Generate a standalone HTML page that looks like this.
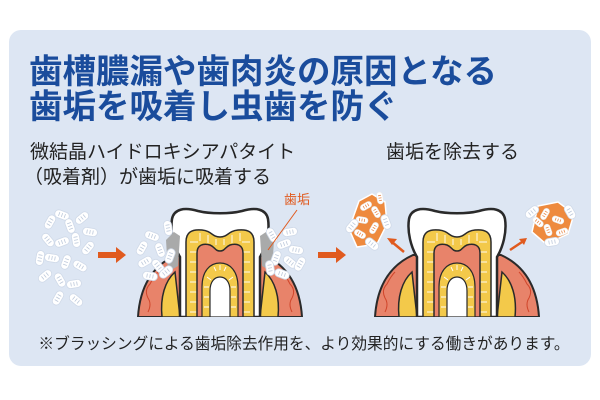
<!DOCTYPE html>
<html><head><meta charset="utf-8"><style>
html,body{margin:0;padding:0;background:#fff;}
svg{display:block;font-family:"Liberation Sans","Noto Sans CJK JP",sans-serif;}
</style></head><body>
<svg width="600" height="400" viewBox="0 0 600 400" xmlns="http://www.w3.org/2000/svg">
<defs>
<g id="bac"><rect x="-7.5" y="-4" width="15" height="8" rx="4" fill="#fff" stroke="#cfd9e8" stroke-width="0.8"/><path d="M-3,-2v4M0,-2v4M3,-2v4" stroke="#bcc8da" stroke-width="0.8"/></g>
<g id="bac2"><rect x="-6" y="-3" width="12" height="6" rx="3" fill="#fff" stroke="#e9e9e9" stroke-width="0.6"/><path d="M-2.5,-1.5v3M0,-1.5v3M2.5,-1.5v3" stroke="#e8894a" stroke-width="0.8"/></g>
<g id="tooth">
  <path d="M-82,0 C-80,-32 -66,-52 -44,-62 L44,-62 C66,-52 80,-32 82,0 Z" fill="#e8836a" stroke="#2a2a2a" stroke-width="2"/>
  <path d="M-58,0 C-60,-20 -55,-36 -45,-45 L-40,0 Z" fill="#f3c94a" stroke="#2a2a2a" stroke-width="1.5"/>
  <path d="M58,0 C60,-20 55,-36 45,-45 L40,0 Z" fill="#f3c94a" stroke="#2a2a2a" stroke-width="1.5"/>
  <path d="M-72,-5 q4,-8 0,-14 q-4,-8 2,-14 q4,-8 8,-12" fill="none" stroke="#d0452a" stroke-width="1"/>
  <path d="M72,-5 q-4,-8 0,-14 q4,-8 -2,-14 q-4,-8 -8,-12" fill="none" stroke="#d0452a" stroke-width="1"/>
  <path d="M-40,0 L-40,-60 C-46,-70 -50,-85 -48,-98 C-46,-108 -36,-110 -22,-106 C-10,-103 10,-103 22,-106 C36,-110 46,-108 48,-98 C50,-85 46,-70 40,-60 L40,0 Z" fill="#fff" stroke="#2a2a2a" stroke-width="2.5"/>
  <path d="M-34,0 L-34,-75 C-34,-85 -28,-88 -18,-87 C-8,-86 -8,-80 0,-80 C8,-80 8,-86 18,-87 C28,-88 34,-85 34,-75 L34,0 Z" fill="#f3c94a" stroke="#2a2a2a" stroke-width="1.5"/>
  <g stroke="#fff" stroke-width="1" opacity="0.9">
    <path d="M-30,-5h8M-30,-15h8M-30,-25h8M-30,-35h8M-30,-45h8M-30,-55h8M-30,-65h8M-30,-75h8M22,-5h8M22,-15h8M22,-25h8M22,-35h8M22,-45h8M22,-55h8M22,-65h8M22,-75h8M-20,-84v8M-12,-82v8M12,-82v8M20,-84v8M-4,-78v6M4,-78v6"/>
  </g>
  <path d="M-23,0 L-23,-64 C-23,-72 -17,-74 -10,-72 C-5,-70 -5,-66 0,-66 C5,-66 5,-70 10,-72 C17,-74 23,-72 23,-64 L23,0 Z" fill="#e8836a" stroke="#2a2a2a" stroke-width="1.5"/>
  <path d="M-18,0 L-18,-30 C-18,-46 -10,-54 0,-54 C10,-54 18,-46 18,-30 L18,0 Z" fill="#f3c94a" stroke="#2a2a2a" stroke-width="1.2"/>
  <g stroke="#fff" stroke-width="0.9"><path d="M-16,-10h5M-16,-20h5M-16,-30h5M-13,-40l4,3M-6,-50l2,4M0,-52v5M6,-50l-2,4M13,-40l-4,3M11,-30h5M11,-20h5M11,-10h5"/></g>
  <path d="M-10,0 L-10,-26 C-10,-36 -5,-40 0,-40 C5,-40 10,-36 10,-26 L10,0 Z" fill="#fff" stroke="#2a2a2a" stroke-width="1.2"/>
  <rect x="-84" y="0" width="168" height="4" fill="#dde6f3"/>
</g>
</defs>
<rect x="9" y="30" width="582" height="336" rx="12" fill="#dde6f3"/>
<text x="29" y="83" font-size="33.5" font-weight="bold" fill="#1a4c9c">歯槽膿漏や歯肉炎の原因となる</text>
<text x="29" y="118" font-size="33.5" font-weight="bold" fill="#1a4c9c">歯垢を吸着し虫歯を防ぐ</text>
<text x="30" y="158" font-size="19" fill="#222">微結晶ハイドロキシアパタイト</text>
<text x="24" y="183" font-size="19" fill="#222">（吸着剤）が歯垢に吸着する</text>
<text x="386" y="158" font-size="19" fill="#222">歯垢を除去する</text>

<g>
<use href="#bac" transform="translate(50,222) rotate(-60)"/><use href="#bac" transform="translate(62,215) rotate(20)"/><use href="#bac" transform="translate(70,226) rotate(70)"/>
<use href="#bac" transform="translate(82,218) rotate(-40)"/><use href="#bac" transform="translate(48,240) rotate(50)"/><use href="#bac" transform="translate(62,242) rotate(-20)"/>
<use href="#bac" transform="translate(76,240) rotate(80)"/><use href="#bac" transform="translate(88,248) rotate(-50)"/><use href="#bac" transform="translate(52,258) rotate(10)"/>
<use href="#bac" transform="translate(66,262) rotate(-70)"/><use href="#bac" transform="translate(80,266) rotate(30)"/><use href="#bac" transform="translate(45,276) rotate(-40)"/>
<use href="#bac" transform="translate(60,280) rotate(60)"/><use href="#bac" transform="translate(74,284) rotate(-10)"/><use href="#bac" transform="translate(58,298) rotate(-60)"/>
<use href="#bac" transform="translate(76,300) rotate(40)"/><use href="#bac" transform="translate(90,232) rotate(10)"/><use href="#bac" transform="translate(40,258) rotate(-80)"/>
</g>
<path d="M98,252h18v-5l10,8l-10,8v-5h-18z" fill="#e05a1e"/>
<path d="M318,252h18v-5l10,8l-10,8v-5h-18z" fill="#e05a1e"/>

<use href="#tooth" transform="translate(220,317)"/>
<use href="#tooth" transform="translate(457,317)"/>

<path d="M166,240 l8,-8 l6,4 l-2,30 l-10,6 z" fill="#a9aaaa"/>
<path d="M274,240 l-8,-8 l-6,4 l2,30 l10,6 z" fill="#a9aaaa"/>
<g>
<use href="#bac" transform="translate(142,248) rotate(-60)"/><use href="#bac" transform="translate(152,236) rotate(20)"/><use href="#bac" transform="translate(160,250) rotate(70)"/>
<use href="#bac" transform="translate(145,262) rotate(-30)"/><use href="#bac" transform="translate(158,266) rotate(50)"/><use href="#bac" transform="translate(168,228) rotate(80)"/>
<use href="#bac" transform="translate(170,256) rotate(-70)"/><use href="#bac" transform="translate(150,276) rotate(10)"/><use href="#bac" transform="translate(166,272) rotate(-40)"/>
<use href="#bac" transform="translate(272,235) rotate(60)"/><use href="#bac" transform="translate(284,244) rotate(-20)"/><use href="#bac" transform="translate(296,250) rotate(10)"/>
<use href="#bac" transform="translate(276,258) rotate(-70)"/><use href="#bac" transform="translate(290,262) rotate(40)"/><use href="#bac" transform="translate(300,264) rotate(-60)"/>
<use href="#bac" transform="translate(282,274) rotate(20)"/><use href="#bac" transform="translate(270,268) rotate(80)"/><use href="#bac" transform="translate(290,232) rotate(-10)"/>
</g>
<text x="284" y="204" font-size="13" fill="#e05a1e">歯垢</text>
<line x1="297" y1="210" x2="268" y2="250" stroke="#e05a1e" stroke-width="1"/>

<path d="M372,194 l13,8 l2,22 l-10,20 l-20,3 l-8,-18 l10,-28 z" fill="#ee8a3e" stroke="#fff" stroke-width="1.5"/>
<g>
<use href="#bac2" transform="translate(366,206) rotate(-30)"/><use href="#bac2" transform="translate(376,212) rotate(60)"/><use href="#bac2" transform="translate(362,220) rotate(10)"/>
<use href="#bac2" transform="translate(374,228) rotate(-60)"/><use href="#bac2" transform="translate(360,234) rotate(30)"/><use href="#bac2" transform="translate(380,198) rotate(80)"/>
<use href="#bac" transform="translate(352,226) rotate(-50)"/><use href="#bac" transform="translate(372,244) rotate(40)"/><use href="#bac" transform="translate(386,222) rotate(70)"/>
</g>
<path d="M538,206 l20,-4 l16,12 l-6,20 l-22,10 l-14,-12 z" fill="#ee8a3e" stroke="#fff" stroke-width="1.5"/>
<g>
<use href="#bac2" transform="translate(545,214) rotate(-60)"/><use href="#bac2" transform="translate(558,220) rotate(20)"/><use href="#bac2" transform="translate(548,230) rotate(70)"/>
<use href="#bac2" transform="translate(562,232) rotate(-20)"/><use href="#bac2" transform="translate(538,222) rotate(40)"/>
<use href="#bac" transform="translate(532,212) rotate(-40)"/><use href="#bac" transform="translate(570,212) rotate(60)"/><use href="#bac" transform="translate(552,242) rotate(-10)"/>
</g>
<path d="M404,252 L392,242" stroke="#e05a1e" stroke-width="2.5"/><path d="M387,238 l10,1 l-5,6z" fill="#e05a1e"/>
<path d="M510,250 L522,242" stroke="#e05a1e" stroke-width="2.5"/><path d="M527,238 l-3,7 l-5,-6z" fill="#e05a1e"/>

<text x="304" y="349" font-size="15.7" fill="#222" text-anchor="middle">※ブラッシングによる歯垢除去作用を、より効果的にする働きがあります。</text>
</svg>
</body></html>
